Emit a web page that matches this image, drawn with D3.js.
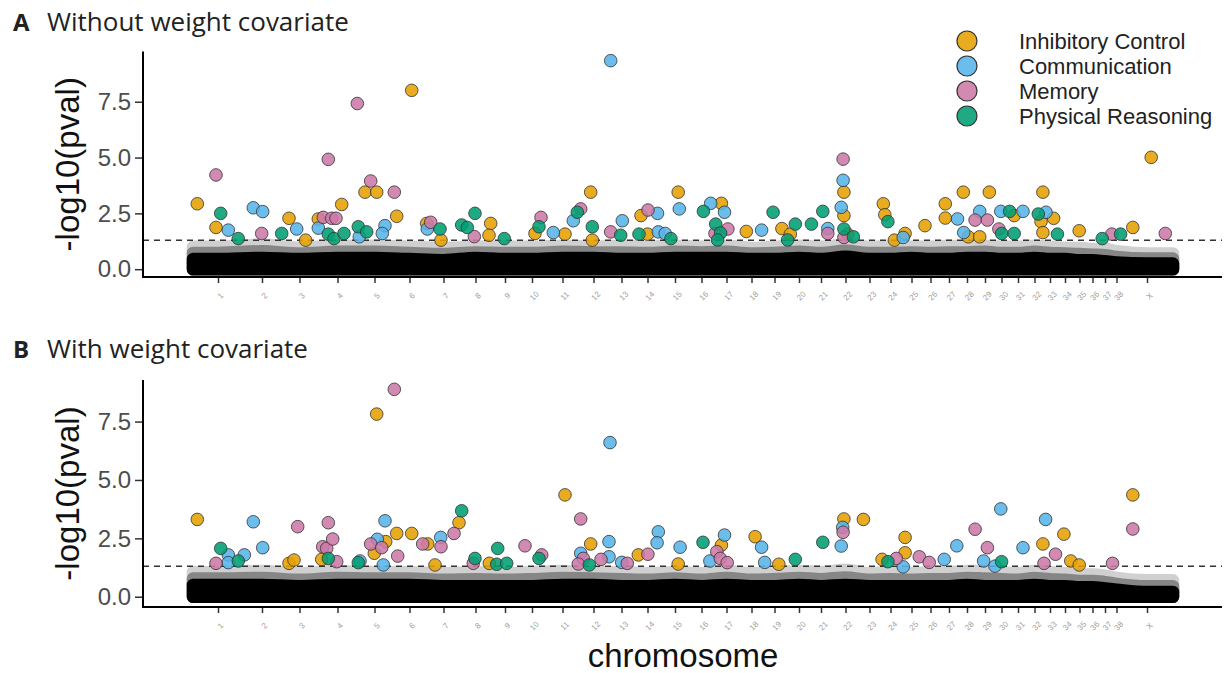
<!DOCTYPE html>
<html>
<head>
<meta charset="utf-8">
<script src="https://cdn.jsdelivr.net/npm/d3@7"></script>
<style>
  body { margin: 0; background: #fff; }
</style>
</head>
<body>
<div id="chart"></div>
<script>
// chromosomes (38 autosomes + X) and their relative sizes on the genome index
var chromLabels = ["1","2","3","4","5","6","7","8","9","10","11","12","13","14","15","16","17","18","19","20",
  "21","22","23","24","25","26","27","28","29","30","31","32","33","34","35","36","37","38","X"];
var chromSizes = [50,38,37,39,35,35,33,31,28,26,35,27,29,23,32,21,29,21,25,24,
  20,29,19,23,19,19,18,18,18,15,18,15,16,14,15,11,14,9,52];

var traits = ["Inhibitory Control", "Communication", "Memory", "Physical Reasoning"];
var traitColors = ["#E69F00", "#56B4E9", "#CC79A7", "#009E73"];

// non-significant SNP cloud, top of the dense core and of the sparse cloud per chromosome (-log10 p)
var bgCoreA = [0.45,0.5,0.45,0.5,0.5,0.45,0.4,0.5,0.45,0.45,0.5,0.5,0.45,0.45,0.5,0.5,0.5,0.45,0.45,0.5,
  0.45,0.55,0.45,0.45,0.5,0.45,0.45,0.5,0.5,0.45,0.45,0.5,0.45,0.45,0.4,0.4,0.35,0.3,0.25];
var bgCloudA = [1.0,1.1,0.95,1.05,1.05,1.0,0.95,1.0,1.0,1.0,1.05,1.0,1.05,1.0,1.05,1.0,1.05,0.95,1.0,1.05,
  1.0,1.1,1.0,1.0,1.0,1.0,1.05,1.0,1.05,1.0,1.0,1.05,1.0,0.95,0.95,0.9,0.9,0.8,0.7];
var bgCoreB = [0.5,0.5,0.45,0.5,0.5,0.5,0.45,0.45,0.45,0.45,0.5,0.5,0.45,0.45,0.5,0.45,0.5,0.45,0.45,0.5,
  0.45,0.5,0.45,0.45,0.45,0.45,0.45,0.5,0.45,0.45,0.45,0.5,0.45,0.45,0.4,0.4,0.35,0.3,0.2];
var bgCloudB = [1.05,1.1,1.0,1.1,1.05,1.05,1.0,1.05,1.0,1.05,1.1,1.05,1.05,1.0,1.05,1.0,1.1,1.0,1.05,1.1,
  1.05,1.15,1.0,1.05,1.0,1.05,1.05,1.1,1.1,1.05,1.0,1.1,1.05,1.0,0.95,0.95,0.9,0.8,0.7];

// significant SNPs: [genome index position, -log10(pval)]
// A - without weight covariate
var sigA_inhib = [[4.3,2.93],[23,1.87],[96,2.28],[112.7,1.30],[125.3,2.25],[148.7,2.90],[172,3.45],[183.7,3.45],
  [203.7,2.37],[218.7,8.01],[233.7,2.05],[248,1.30],[297.7,2.05],[296,1.52],[342,1.60],[372,1.57],[397.7,3.45],
  [399.3,1.30],[448,2.40],[454.6,1.57],[485.2,3.45],[528.4,2.95],[553.3,1.69],[588.9,1.82],[597.3,1.57],
  [650.9,3.45],[650.9,2.40],[654.7,1.57],[690.3,2.93],[691.8,2.44],[701.4,1.30],[712.1,1.60],[732,1.95],
  [752.3,2.93],[752.3,2.29],[770.3,3.45],[775.3,1.45],[786.7,1.45],[796.3,3.45],[821.2,2.40],[849.9,3.45],
  [848,2.13],[860.6,2.28],[849.9,1.64],[886.2,1.72],[939.8,1.87],[958.2,5.01]];
var sigA_comm = [[35.3,1.75],[60.3,2.75],[69.7,2.58],[103.7,1.80],[125.3,1.84],[166.3,1.45],[192,1.95],[189.3,1.60],
  [234.3,1.80],[360.3,1.64],[380.3,2.17],[417.7,9.34],[429.3,2.17],[464.5,2.50],[465.3,1.67],[472.2,1.60],
  [486.3,2.70],[517.7,2.95],[531.5,2.55],[568.6,1.75],[634.8,1.82],[650.1,3.98],[648.2,2.77],[710.2,1.42],
  [764.5,2.25],[786.7,2.59],[770.7,1.64],[807.8,2.59],[830,2.59],[853,2.55]];
var sigA_mem = [[23,4.22],[68.7,1.60],[130.3,2.32],[138.7,2.28],[143,2.28],[135.3,4.92],[164.3,7.42],[177.7,3.95],
  [201.3,3.45],[237.7,2.10],[281.3,1.46],[348,2.32],[387.7,2.70],[417.7,1.67],[455,2.65],[522,1.60],[534.9,1.80],
  [634.8,1.60],[650.1,4.93],[650.9,1.42],[782.1,2.20],[794.4,2.20],[805.9,1.80],[918.8,1.57],[972.3,1.60]];
var sigA_phys = [[27.7,2.50],[45.3,1.37],[88.7,1.60],[135.3,1.57],[141,1.37],[151,1.60],[165.3,1.90],[173.7,1.67],
  [247,1.80],[268.7,1.98],[274.3,1.87],[282,2.50],[311.3,1.37],[346,1.90],[384.3,2.55],[399.3,1.90],[427.7,1.52],
  [446,1.57],[477.9,1.37],[510.4,2.59],[522.7,2.02],[527.6,1.62],[524.6,1.31],[580.1,2.55],[594.6,1.31],
  [602.3,2.02],[618.4,2.02],[629.8,2.59],[650.9,1.80],[660.4,1.45],[694.9,2.13],[808.6,1.60],[816.6,2.59],
  [821.2,1.60],[845.3,2.47],[864.4,1.57],[909.2,1.37],[927.6,1.57]];

// B - with weight covariate
var sigB_inhib = [[4.3,3.31],[96,1.43],[101,1.57],[128.7,1.60],[183.7,7.82],[192.7,2.36],[181.3,1.86],[203.7,2.71],
  [218.7,2.71],[234.7,2.26],[242,1.36],[266,3.17],[296.3,1.43],[372,4.36],[397.7,2.26],[445.3,1.79],[485.2,1.40],
  [528.4,2.21],[562.1,2.57],[585.8,1.39],[650.9,3.33],[670.4,3.31],[689.1,1.60],[712.1,2.54],[712.1,1.88],
  [849.9,2.26],[870.9,2.68],[877.8,1.53],[886.2,1.36],[939.8,4.36]];
var sigB_comm = [[35.3,1.79],[35.3,1.46],[51.3,1.79],[60.3,3.21],[69.7,2.10],[167,1.53],[192,3.25],[184.3,2.46],
  [190.3,1.36],[247.7,2.54],[387.7,1.86],[416,2.36],[416,1.71],[417,6.60],[428.7,1.47],[465.3,2.78],[464.1,2.31],
  [487.1,2.12],[516.9,1.53],[531.5,2.64],[568.6,2.12],[571.7,1.47],[649.7,2.97],[648.2,2.17],[710.2,1.28],
  [751.2,1.60],[763.8,2.18],[790.6,1.53],[802,1.31],[807.8,3.76],[830,2.10],[852.6,3.31]];
var sigB_mem = [[23,1.43],[104.7,3.00],[129.7,2.14],[133.7,2.07],[135.3,3.17],[139.7,2.47],[143.7,1.50],[201.3,8.88],
  [177.7,2.26],[188.7,2.10],[204.7,1.74],[229.7,2.26],[248,2.14],[261,2.71],[280.3,1.43],[332,2.18],[348.7,1.79],
  [387.7,3.33],[390.3,1.64],[385.3,1.40],[408,1.60],[434.3,1.43],[454.9,1.82],[523.8,1.93],[527.3,1.64],
  [534.2,1.46],[650.1,2.76],[703.3,1.64],[726.3,1.71],[736.2,1.47],[782.1,2.89],[794.4,2.10],[851,1.43],
  [862.5,1.82],[919.5,1.43],[939.8,2.90]];
var sigB_phys = [[27.7,2.07],[45.3,1.53],[135.3,1.64],[165.3,1.46],[268.7,3.68],[282,1.64],[304.7,2.07],[303.7,1.39],
  [313.7,1.43],[346,1.64],[396.3,1.36],[510,2.33],[602.3,1.60],[629.8,2.33],[694.9,1.50],[808.6,1.50]];

var yTicks = [0, 2.5, 5.0, 7.5];
var threshold = -Math.log10(0.05);

//----------------------------------------------------------------------------------------------------
var width = 1224, height = 673;
var plotLeft = 143, plotRight = 1222;
var ptR = 6.3;

var svg = d3.select("#chart")
  .append("svg")
  .attr("width", width)
  .attr("height", height);

var chromStart = [0].concat(Array.from(d3.cumsum(chromSizes)));
var total = chromStart[chromStart.length - 1];
var chromMid = chromSizes.map(function (s, i) { return chromStart[i] + s / 2; });

var x = d3.scaleLinear().domain([0, total]).range([193, 1173]);

var panels = [
  { letter: "A", title: "Without weight covariate", titleY: 31, top: 51.5, bottom: 277, domain: [-0.35, 9.75],
    core: bgCoreA, cloud: bgCloudA, sig: [sigA_inhib, sigA_comm, sigA_mem, sigA_phys] },
  { letter: "B", title: "With weight covariate", titleY: 358, top: 380, bottom: 607, domain: [-0.44, 9.28],
    core: bgCoreB, cloud: bgCloudB, sig: [sigB_inhib, sigB_comm, sigB_mem, sigB_phys] }
];

panels.forEach(function (p) {
  var y = d3.scaleLinear().domain(p.domain).range([p.bottom, p.top]);
  var g = svg.append("g");

  // title
  var t = g.append("text")
    .attr("x", 13).attr("y", p.titleY)
    .style("font-family", "'Open Sans', Lato, sans-serif")
    .style("font-size", "26px")
    .attr("fill", "#222");
  t.append("tspan").attr("font-weight", "bold").style("font-size", "24px").text(p.letter);
  t.append("tspan").attr("x", 47).text(p.title);

  // background cloud of SNPs
  var env = [{ pos: 0, core: p.core[0], cloud: p.cloud[0] }];
  chromMid.forEach(function (m, i) { env.push({ pos: m, core: p.core[i], cloud: p.cloud[i] }); });
  env.push({ pos: total, core: p.core[p.core.length - 1], cloud: p.cloud[p.cloud.length - 1] });

  var cloudArea = d3.area().curve(d3.curveMonotoneX)
    .x(function (d) { return x(d.pos); })
    .y0(y(0))
    .y1(function (d) { return y(d.cloud); });
  var coreArea = d3.area().curve(d3.curveMonotoneX)
    .x(function (d) { return x(d.pos); })
    .y0(y(0))
    .y1(function (d) { return y(d.core); });

  g.append("g").attr("opacity", 0.18)
    .append("path").datum(env)
    .attr("d", cloudArea)
    .attr("fill", "#000").attr("stroke", "#000")
    .attr("stroke-width", ptR * 2).attr("stroke-linejoin", "round");
  g.append("g").attr("opacity", 0.35)
    .append("path").datum(env)
    .attr("d", d3.area().curve(d3.curveMonotoneX)
      .x(function (d) { return x(d.pos); })
      .y0(y(0))
      .y1(function (d) { return y((d.core + d.cloud) / 2); }))
    .attr("fill", "#000").attr("stroke", "#000")
    .attr("stroke-width", ptR * 2).attr("stroke-linejoin", "round");
  g.append("path").datum(env)
    .attr("d", coreArea)
    .attr("fill", "#000").attr("stroke", "#000")
    .attr("stroke-width", ptR * 2).attr("stroke-linejoin", "round");

  // significance threshold
  g.append("line")
    .attr("x1", plotLeft).attr("x2", plotRight)
    .attr("y1", y(threshold)).attr("y2", y(threshold))
    .attr("stroke", "#333").attr("stroke-width", 1.5)
    .attr("stroke-dasharray", "6,5");

  // significant SNPs
  p.sig.forEach(function (data, k) {
    g.append("g").selectAll("circle")
      .data(data)
      .enter().append("circle")
      .attr("cx", function (d) { return x(d[0]); })
      .attr("cy", function (d) { return y(d[1]); })
      .attr("r", ptR)
      .attr("fill", traitColors[k])
      .attr("fill-opacity", 0.88)
      .attr("stroke", "#333")
      .attr("stroke-opacity", 0.8)
      .attr("stroke-width", 1);
  });

  // y axis
  var ya = g.append("g")
    .attr("transform", "translate(" + plotLeft + ",0)")
    .call(d3.axisLeft(y).tickValues(yTicks).tickFormat(d3.format(".1f")).tickSize(8).tickSizeOuter(0).tickPadding(4));
  ya.select(".domain").remove();
  ya.selectAll(".tick line").attr("stroke", "#333").attr("stroke-width", 1.5);
  ya.selectAll(".tick text")
    .style("font-family", "'Liberation Sans', Arial, sans-serif")
    .style("font-size", "24px")
    .attr("fill", "#4d4d4d");

  // x axis
  var xa = g.append("g")
    .attr("transform", "translate(0," + p.bottom + ")")
    .call(d3.axisBottom(x).tickValues(chromMid)
      .tickFormat(function (d, i) { return chromLabels[i]; })
      .tickSize(6).tickSizeOuter(0));
  xa.select(".domain").remove();
  xa.selectAll(".tick line").attr("stroke", "#333").attr("stroke-width", 1.5);
  xa.selectAll(".tick text")
    .attr("y", null).attr("dy", null)
    .attr("text-anchor", "middle")
    .attr("dominant-baseline", "central")
    .attr("transform", "translate(2,19) rotate(-45)")
    .style("font-family", "'Liberation Sans', Arial, sans-serif")
    .style("font-size", "8px")
    .attr("fill", "#a0a0a0");

  // axis lines
  g.append("path")
    .attr("d", "M" + plotLeft + "," + p.top + "V" + p.bottom + "H" + plotRight)
    .attr("fill", "none").attr("stroke", "#000").attr("stroke-width", 2);

  // y title
  g.append("text")
    .attr("transform", "translate(67," + ((p.top + p.bottom) / 2) + ") rotate(-90)")
    .attr("text-anchor", "middle")
    .attr("dominant-baseline", "central")
    .style("font-family", "'Liberation Sans', Arial, sans-serif")
    .style("font-size", "33px")
    .attr("fill", "#111")
    .text("-log10(pval)");
});

// x title
svg.append("text")
  .attr("x", 683).attr("y", 667)
  .attr("text-anchor", "middle")
  .style("font-family", "'Liberation Sans', Arial, sans-serif")
  .style("font-size", "33px")
  .attr("fill", "#111")
  .text("chromosome");

// legend
var legendY = [41, 66, 91, 116];
var legend = svg.append("g");
traits.forEach(function (name, i) {
  legend.append("circle")
    .attr("cx", 967).attr("cy", legendY[i]).attr("r", 10)
    .attr("fill", traitColors[i]).attr("fill-opacity", 0.88)
    .attr("stroke", "#333").attr("stroke-width", 1.2);
  legend.append("text")
    .attr("x", 1019).attr("y", legendY[i])
    .attr("dominant-baseline", "central")
    .style("font-family", "'Liberation Sans', Arial, sans-serif")
    .style("font-size", "22px")
    .attr("fill", "#222")
    .text(name);
});
</script>
</body>
</html>
